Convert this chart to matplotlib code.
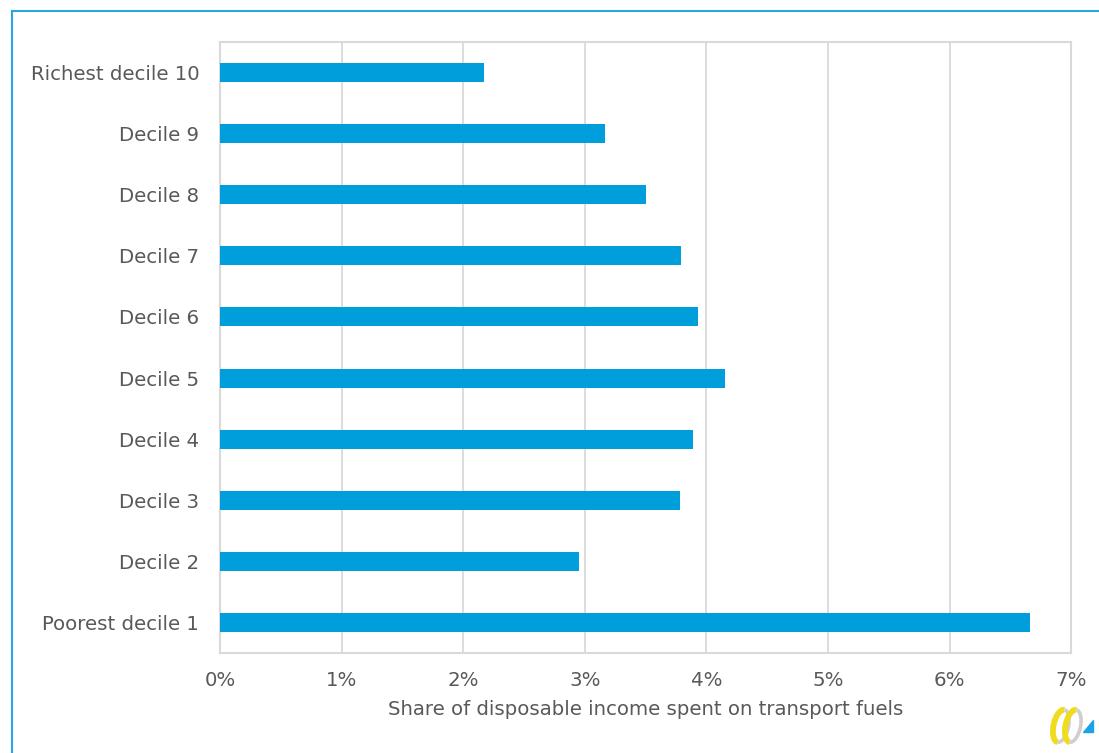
import matplotlib
matplotlib.use('Agg')
import matplotlib.pyplot as plt
from matplotlib.patches import Arc, Polygon
from matplotlib.ticker import FuncFormatter

# share of disposable income spent on transport fuels, by income decile
deciles = ['Poorest decile 1', 'Decile 2', 'Decile 3', 'Decile 4', 'Decile 5',
           'Decile 6', 'Decile 7', 'Decile 8', 'Decile 9', 'Richest decile 10']
share = [6.66, 2.95, 3.78, 3.89, 4.15, 3.93, 3.79, 3.50, 3.17, 2.17]

bar_col = '#009fdb'
txt_col = '#595959'
grid_col = '#d9d9d9'

plt.rcParams['font.family'] = ['DejaVu Sans']

fig = plt.figure(figsize=(10.99, 7.53), dpi=100)
ax = fig.add_axes([0.2002, 0.1328, 0.7744, 0.8114])

ax.barh(range(len(deciles)), share, height=0.31, color=bar_col, zorder=3)
ax.set_xlim(0, 7)
ax.set_ylim(-0.5, len(deciles) - 0.5)
ax.set_xticks(range(8))
ax.xaxis.set_major_formatter(FuncFormatter(lambda v, p: '%d%%' % v))
ax.set_yticks(range(len(deciles)))
ax.set_yticklabels(deciles)
ax.tick_params(length=0, labelsize=14.2, labelcolor=txt_col)
ax.tick_params(axis='x', pad=13)
ax.tick_params(axis='y', pad=15)
ax.grid(axis='x', color=grid_col, linewidth=1.3, zorder=0)
for s in ax.spines.values():
    s.set_color(grid_col)
    s.set_linewidth(1.5)
ax.set_xlabel('Share of disposable income spent on transport fuels',
              fontsize=14.2, color=txt_col, labelpad=7)

# outer frame, running off the right and bottom edges
fig.add_artist(plt.Line2D([12 / 1099, 12 / 1099], [1 - 11 / 753, 0],
                          transform=fig.transFigure, color='#2aa7df', lw=1.5))
fig.add_artist(plt.Line2D([12 / 1099, 1], [1 - 11 / 753, 1 - 11 / 753],
                          transform=fig.transFigure, color='#2aa7df', lw=1.5))

# small logo in the corner (pixel units inside its own axes)
logo = fig.add_axes([1048 / 1099, 6 / 753, 48 / 1099, 44 / 753])
logo.set_xlim(0, 48)
logo.set_ylim(0, 44)
logo.axis('off')
for cx in (13, 25):
    logo.add_patch(Arc((cx, 21), 15, 33, angle=-12, theta1=90, theta2=270,
                       edgecolor='#f0dc1e', linewidth=4.2))
    logo.add_patch(Arc((cx, 21), 15, 33, angle=-12, theta1=-90, theta2=90,
                       edgecolor='#cfcfcf', linewidth=2.6))
logo.add_patch(Polygon([[35, 15], [45, 15], [45, 27]], color='#1aa3e8'))

fig.savefig('out.png', dpi=100)
